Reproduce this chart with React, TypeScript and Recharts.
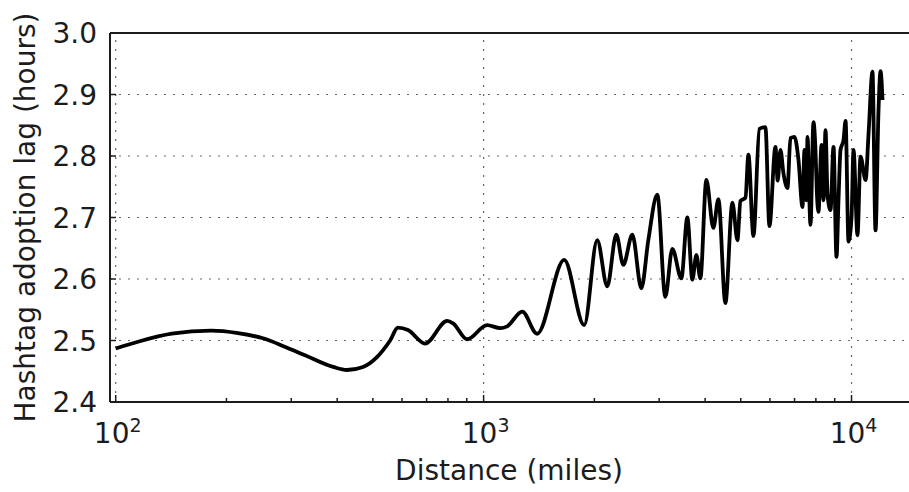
import { CartesianGrid, Line, LineChart, ReferenceLine, XAxis, YAxis } from "recharts";

const distanceMiles = [
  100, 115, 142, 182, 215, 250, 288, 327, 390, 425, 470, 513, 557, 585, 623, 693, 796, 826, 902,
  1022, 1109, 1159, 1273, 1398, 1656, 1877, 2036, 2168, 2294, 2397, 2536, 2684, 2803, 2966, 3118,
  3258, 3447, 3579, 3693, 3787, 3883, 4031, 4212, 4346, 4541, 4745, 4896, 4990, 5148, 5245, 5412,
  5618, 5834, 5982, 6211, 6300, 6409, 6531, 6697, 6823, 6997, 7174, 7357, 7449, 7543, 7590, 7734,
  7880, 7980, 8050, 8131, 8288, 8392, 8497, 8606, 8767, 8933, 9103, 9217, 9333, 9511, 9632, 9814,
  10000, 10125, 10380, 10580, 10920, 11130, 11400, 11620, 11840, 11990, 12140
];

const lagHours = [
  2.487, 2.498, 2.511, 2.516, 2.512, 2.504, 2.49, 2.476, 2.457, 2.452, 2.457, 2.473, 2.5, 2.521,
  2.517, 2.495, 2.532, 2.528, 2.502, 2.525, 2.52, 2.523, 2.547, 2.511, 2.631, 2.525, 2.663, 2.588,
  2.672, 2.623, 2.672, 2.585, 2.663, 2.737, 2.571, 2.649, 2.601, 2.7, 2.599, 2.639, 2.601, 2.761,
  2.683, 2.73, 2.561, 2.724, 2.663, 2.727, 2.732, 2.802, 2.67, 2.844, 2.847, 2.686, 2.815, 2.76,
  2.81, 2.772, 2.748, 2.829, 2.831, 2.794, 2.717, 2.81, 2.728, 2.831, 2.688, 2.855, 2.81, 2.74,
  2.709, 2.818, 2.728, 2.842, 2.737, 2.712, 2.815, 2.636, 2.728, 2.81, 2.826, 2.857, 2.661, 2.7,
  2.81, 2.671, 2.799, 2.761, 2.839, 2.937, 2.679, 2.875, 2.938, 2.891
];

const majorTicks = [100, 1000, 10000];
const minorTicks = [200, 300, 400, 500, 600, 700, 800, 900, 2000, 3000, 4000, 5000, 6000, 7000, 8000, 9000];
const xTicks = [...majorTicks, ...minorTicks].sort((a, b) => a - b);
const yTicks = [2.4, 2.5, 2.6, 2.7, 2.8, 2.9, 3.0];
const xDomain = [96.5, 14600];

const data = distanceMiles.map((d, i) => ({ distance: d, lag: lagHours[i] }));

const ink = "#1c1c1c";
const gridInk = "#666";
const font = "'DejaVu Sans', sans-serif";

function BottomTick({ x, y, payload }: any) {
  const v = payload.value;
  const major = majorTicks.includes(v);
  return (
    <g>
      <line x1={x} x2={x} y1={y} y2={y - (major ? 7 : 4)} stroke={ink} strokeWidth={1.5} />
      {major && (
        <text x={x + 2} y={y + 41} textAnchor="middle" fontSize={28} fill={ink} fontFamily={font}>
          10
          <tspan dy={-11} fontSize={19}>
            {Math.round(Math.log10(v))}
          </tspan>
        </text>
      )}
    </g>
  );
}

function TopTick({ x, y, payload }: any) {
  const major = majorTicks.includes(payload.value);
  return <line x1={x} x2={x} y1={y} y2={y + (major ? 7 : 4)} stroke={ink} strokeWidth={1.5} />;
}

function LeftTick({ x, y, payload }: any) {
  return (
    <g>
      <line x1={x} x2={x + 6} y1={y} y2={y} stroke={ink} strokeWidth={1.5} />
      <text x={x - 13} y={y + 10} textAnchor="end" fontSize={28} fill={ink} fontFamily={font}>
        {Number(payload.value).toFixed(1)}
      </text>
    </g>
  );
}

export default function App() {
  return (
    <div style={{ position: "absolute", left: 0, top: 0, width: 909, height: 492, overflow: "hidden", background: "#fff" }}>
      <LineChart width={912} height={492} data={data} margin={{ top: 3, right: 0, bottom: 0, left: 0 }}>
        <CartesianGrid vertical={false} stroke={gridInk} strokeWidth={1.2} strokeDasharray="2 7" />
        {majorTicks.map((t) => (
          <ReferenceLine key={t} x={t} stroke={gridInk} strokeWidth={1.2} strokeDasharray="2 7" />
        ))}
        <XAxis
          dataKey="distance"
          type="number"
          scale="log"
          domain={xDomain}
          allowDataOverflow
          ticks={xTicks}
          interval={0}
          height={90}
          tickSize={0}
          tickMargin={0}
          tick={<BottomTick />}
          axisLine={{ stroke: ink, strokeWidth: 2 }}
          label={{
            content: ({ viewBox }: any) => (
              <text
                x={viewBox.x + viewBox.width / 2 - 2}
                y={480}
                textAnchor="middle"
                fontSize={28}
                fill={ink}
                fontFamily={font}
              >
                Distance (miles)
              </text>
            )
          }}
        />
        <XAxis
          xAxisId="top"
          orientation="top"
          type="number"
          scale="log"
          domain={xDomain}
          allowDataOverflow
          ticks={xTicks}
          interval={0}
          height={30}
          tickSize={0}
          tickMargin={0}
          tick={<TopTick />}
          axisLine={{ stroke: ink, strokeWidth: 2 }}
        />
        <YAxis
          type="number"
          domain={[2.4, 3.0]}
          allowDataOverflow
          ticks={yTicks}
          interval={0}
          width={110}
          tickSize={0}
          tickMargin={0}
          tick={<LeftTick />}
          axisLine={{ stroke: ink, strokeWidth: 2 }}
          label={{
            content: ({ viewBox }: any) => (
              <text
                x={0}
                y={0}
                transform={`translate(35, ${viewBox.y + viewBox.height / 2}) rotate(-90)`}
                textAnchor="middle"
                fontSize={28}
                fill={ink}
                fontFamily={font}
              >
                Hashtag adoption lag (hours)
              </text>
            )
          }}
        />
        <Line
          type="monotone"
          dataKey="lag"
          stroke="#000"
          strokeWidth={3.8}
          dot={false}
          isAnimationActive={false}
        />
      </LineChart>
    </div>
  );
}
